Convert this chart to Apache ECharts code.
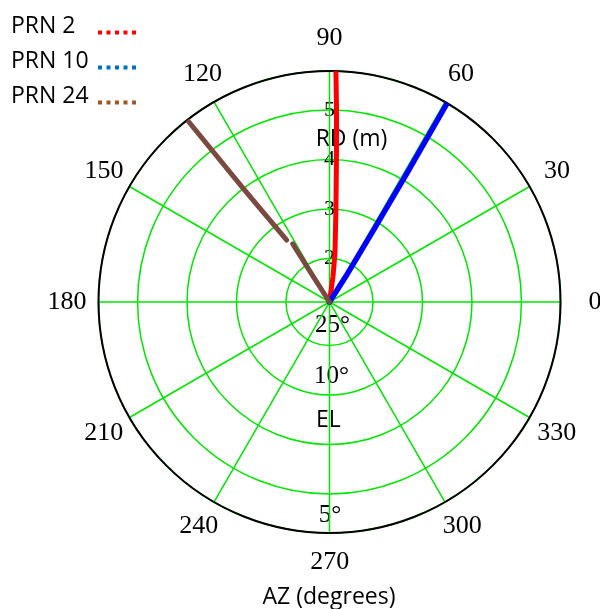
<!DOCTYPE html>
<html><head><meta charset="utf-8">
<script src="https://cdn.jsdelivr.net/npm/echarts@6/dist/echarts.min.js"></script>
<style>html,body{margin:0;padding:0;background:#fff}#c{width:600px;height:609px}</style>
</head><body><div id="c"></div>
<script>
// ---- data ----
const seriesNames = ['PRN 2', 'PRN 10', 'PRN 24'];
const angleTicks = [0, 30, 60, 90, 120, 150, 180, 210, 240, 270, 300, 330];
const rdTicks = [2, 3, 4, 5];
const rdMin = 1.12, rdMax = 5.79;
// PRN 2 : RD (m) and AZ (deg)
const prn2RD = [1.12, 1.64, 2.11, 2.98, 3.99, 5.00, 5.78];
const prn2AZ = [82.0, 82.2, 83.6, 86.0, 87.2, 87.9, 88.4];
// PRN 10
const prn10RD = [1.12, 1.73, 2.84, 4.15, 5.77];
const prn10AZ = [57.5, 57.5, 58.5, 59.0, 59.4];
// PRN 24 (two segments with a small gap)
const prn24aRD = [1.12, 1.83, 2.51];
const prn24aAZ = [122.4, 122.6, 122.3];
const prn24bRD = [2.64, 4.00, 5.77];
const prn24bAZ = [124.7, 127.2, 128.0];
const elLabels = ['25°', '10°', 'EL', '5°'];

// ---- style / layout ----
const CX = 329.5, CY = 302, R = 231;
const GREEN = '#00e600';
const SERIF = '"Liberation Serif", "DejaVu Serif", serif';
const SANS = '"Open Sans", "Noto Sans", sans-serif';
const ANG_FS = 26, ANG_MARGIN = -16;
// where each angle label's centre sits (pixel offsets from the polar centre)
const angLabelPos = {
  0: [265.5, 0], 30: [227.5, -131], 60: [131.5, -228], 90: [0, -264], 120: [-127, -228],
  150: [-225.5, -131], 180: [-262.5, 0], 210: [-225.8, 131.3], 240: [-130.7, 223.8],
  270: [0.2, 260.5], 300: [132.7, 223.8], 330: [227.2, 131.3]
};

const pair = (rs, as) => rs.map((r, i) => [r, as[i]]);

// per-label padding so each angle label lands at its place
const richAng = {};
angleTicks.forEach(t => {
  const a = t * Math.PI / 180, c = Math.cos(a), s = Math.sin(a);
  const rr = R + ANG_MARGIN;
  const px = rr * c, py = -rr * s;
  const tx = angLabelPos[t][0], ty = angLabelPos[t][1];
  const ha = Math.abs(px) / R < 0.3 ? 'center' : (px > 0 ? 'left' : 'right');
  const va = Math.abs(py) / R < 0.3 ? 'middle' : (py > 0 ? 'top' : 'bottom');
  const w = String(t).length * 0.5 * ANG_FS, h = ANG_FS;
  let pl = 0, pr = 0, pt = 0, pb = 0;
  if (ha === 'left') pl = tx - px - w / 2;
  else if (ha === 'right') pr = px - w / 2 - tx;
  else { const dx = tx - px; if (dx > 0) pl = 2 * dx; else pr = -2 * dx; }
  if (va === 'top') pt = 2 * (ty - py) - h;
  else if (va === 'bottom') pb = 2 * (py - ty) - h;
  richAng['a' + t] = { fontFamily: SERIF, fontSize: ANG_FS, lineHeight: ANG_FS, color: '#000', padding: [pt, pr, pb, pl] };
});

const dotIcon = 'path://M0,0h4v4h-4zM8.5,0h4v4h-4zM17,0h4v4h-4zM25.5,0h4v4h-4zM34,0h4v4h-4z';

function txt(text, x, y, font) {
  return { type: 'text', x: x, y: y, z: 0,
    style: { text: text, font: font, fill: '#000', align: 'center', verticalAlign: 'middle', textAlign: 'center', textVerticalAlign: 'middle' } };
}

const chart = echarts.init(document.getElementById('c'), null, { renderer: 'canvas' });
chart.setOption({
  animation: false,
  backgroundColor: '#fff',
  legend: {
    orient: 'vertical', left: 11, top: 15, padding: 0, itemGap: 0,
    align: 'right', selectedMode: false,
    itemWidth: 38, itemHeight: 4, icon: dotIcon,
    formatter: n => '{t|' + n + '}',
    textStyle: { rich: { t: { width: 82, align: 'left', fontFamily: SANS, fontSize: 23, lineHeight: 23, color: '#000', padding: [0, 0, 12, 0] } } },
    data: [
      { name: seriesNames[0], itemStyle: { color: '#ff0000', borderWidth: 0 } },
      { name: seriesNames[1], itemStyle: { color: '#0070c0', borderWidth: 0 } },
      { name: seriesNames[2], itemStyle: { color: '#a0561e', borderWidth: 0 } }
    ]
  },
  polar: [
    { center: [CX, CY], radius: R },
    { center: [CX, CY], radius: R }
  ],
  angleAxis: [
    { polarIndex: 0, type: 'value', min: 0, max: 360, interval: 30, startAngle: 0, clockwise: false, z: 1,
      axisLine: { show: true, lineStyle: { color: '#000', width: 2 } },
      axisTick: { show: false },
      splitLine: { show: true, lineStyle: { color: GREEN, width: 1.5 } },
      axisLabel: { show: true, margin: ANG_MARGIN, color: '#000',
        formatter: v => (angleTicks.indexOf(v) >= 0 ? '{a' + v + '|' + v + '}' : ''), rich: richAng } },
    { polarIndex: 1, type: 'value', min: 0, max: 360, startAngle: 90, clockwise: false, show: false }
  ],
  radiusAxis: [
    { polarIndex: 0, type: 'value', min: rdMin, max: rdMax, z: 0,
      axisLine: { show: false }, axisTick: { show: false }, axisLabel: { show: false },
      splitLine: { show: true, lineStyle: { color: GREEN, width: 1.5 } } },
    { polarIndex: 1, type: 'value', min: rdMin, max: rdMax, z: 0,
      axisLine: { show: false }, axisTick: { show: false }, splitLine: { show: false },
      axisLabel: { show: true, margin: 0, align: 'center', verticalAlign: 'middle',
        fontFamily: SERIF, fontSize: 22, color: '#000',
        formatter: v => (rdTicks.indexOf(v) >= 0 ? String(v) : '') } }
  ],
  series: [
    { name: seriesNames[0], type: 'line', coordinateSystem: 'polar', polarIndex: 0, showSymbol: false, clip: false,
      color: '#ff0000', lineStyle: { color: '#ff0000', width: 5, cap: 'round', join: 'round' }, data: pair(prn2RD, prn2AZ) },
    { name: seriesNames[1], type: 'line', coordinateSystem: 'polar', polarIndex: 0, showSymbol: false, clip: false,
      color: '#0000ff', lineStyle: { color: '#0000ff', width: 5.5, cap: 'round', join: 'round' }, data: pair(prn10RD, prn10AZ) },
    { name: seriesNames[2], type: 'line', coordinateSystem: 'polar', polarIndex: 0, showSymbol: false, clip: false,
      color: '#7a4a40', lineStyle: { color: '#7a4a40', width: 5, cap: 'round', join: 'round' }, data: pair(prn24aRD, prn24aAZ) },
    { name: seriesNames[2], type: 'line', coordinateSystem: 'polar', polarIndex: 0, showSymbol: false, clip: false,
      color: '#7a4a40', lineStyle: { color: '#7a4a40', width: 5, cap: 'round', join: 'round' }, data: pair(prn24bRD, prn24bAZ) }
  ],
  graphic: { elements: [
    txt('RD (m)', 351.5, 139, 'normal 23px ' + SANS),
    txt(elLabels[0], 332.5, 325, 'normal 25px ' + SERIF),
    txt(elLabels[1], 331.5, 376.5, 'normal 25px ' + SERIF),
    txt(elLabels[2], 328.3, 420, 'normal 23px ' + SANS),
    txt(elLabels[3], 330, 515.5, 'normal 25px ' + SERIF),
    txt('AZ (degrees)', 329, 597, 'normal 23px ' + SANS)
  ] }
});
</script>
</body></html>
